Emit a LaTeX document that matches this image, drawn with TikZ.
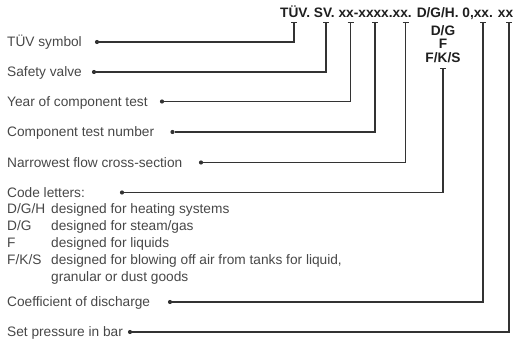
\documentclass[tikz,border=0pt]{standalone}
\usepackage{fontspec}
\setmainfont{Liberation Sans}
\usetikzlibrary{arrows.meta,positioning}

\begin{document}
\begin{tikzpicture}[
  x=1pt, y=-1pt,
  lbl/.style={anchor=base west, inner sep=0pt, text=black!72,
              font=\fontsize{13.7}{16}\selectfont},
  code/.style={anchor=base, inner sep=0pt, text=black!88,
               font=\fontsize{13.7}{16}\selectfont\bfseries},
  ldot/.style={circle, fill=black!80, inner sep=0pt, minimum size=4.2pt},
  lead/.style={draw=black!80, line width=1.1pt,
               -{Bar[width=6pt,line width=1.1pt]}}
]
\useasboundingbox (0,0) rectangle (520,339);

% marking string
\node[code, anchor=base west] (hdr) at (280,17.5) {TÜV. SV. xx-xxxx.xx. D/G/H. 0,xx. xx};
\node[code] (dg)  at (443,36)   {D/G};
\node[code] (f)   at (443,49)   {F};
\node[code] (fks) at (443,62.5) {F/K/S};

% tick ends under the marking
\coordinate (t1) at (294,22);
\coordinate (t2) at (326,22);
\coordinate (t3) at (350.5,22);
\coordinate (t4) at (375,22);
\coordinate (t5) at (405.5,22);
\coordinate (t6) at (443,68);
\coordinate (t7) at (483,22);
\coordinate (t8) at (509,22);

% labels
\node[lbl] (sym)  at (7,47)    {TÜV symbol};
\node[lbl] (sv)   at (7,77)    {Safety valve};
\node[lbl] (year) at (7,106.5) {Year of component test};
\node[lbl] (num)  at (7,137)   {Component test number};
\node[lbl] (flow) at (7,167.5) {Narrowest flow cross-section};
\node[lbl] (let)  at (7,197.5) {Code letters:};
\node[lbl] (cd)   at (7,307)   {Coefficient of discharge};
\node[lbl] (pb)   at (7,337)   {Set pressure in bar};

% code letter key
\node[lbl] (k1) at (7,214)   {D/G/H};
\node[lbl] (k2) at (7,231)   {D/G};
\node[lbl] (k3) at (7,247.5) {F};
\node[lbl] (k4) at (7,264.5) {F/K/S};
\node[lbl] (e1) at (51,214)   {designed for heating systems};
\node[lbl] (e2) at (51,231)   {designed for steam/gas};
\node[lbl] (e3) at (51,247.5) {designed for liquids};
\node[lbl] (e4) at (51,264.5) {designed for blowing off air from tanks for liquid,};
\node[lbl] (e5) at (51,281.5) {granular or dust goods};

% dots
\node[ldot] (d1) at (97,42)    {};
\node[ldot] (d2) at (94,72)    {};
\node[ldot] (d3) at (162,101.5) {};
\node[ldot] (d4) at (172.5,132) {};
\node[ldot] (d5) at (201,162.5) {};
\node[ldot] (d6) at (122,192.5) {};
\node[ldot] (d7) at (170,302)  {};
\node[ldot] (d8) at (130,332)  {};

\draw[lead] (d1) -| (t1);
\draw[lead] (d2) -| (t2);
\draw[lead] (d3) -| (t3);
\draw[lead] (d4) -| (t4);
\draw[lead] (d5) -| (t5);
\draw[lead] (d6) -| (t6);
\draw[lead] (d7) -| (t7);
\draw[lead] (d8) -| (t8);
\end{tikzpicture}
\end{document}
